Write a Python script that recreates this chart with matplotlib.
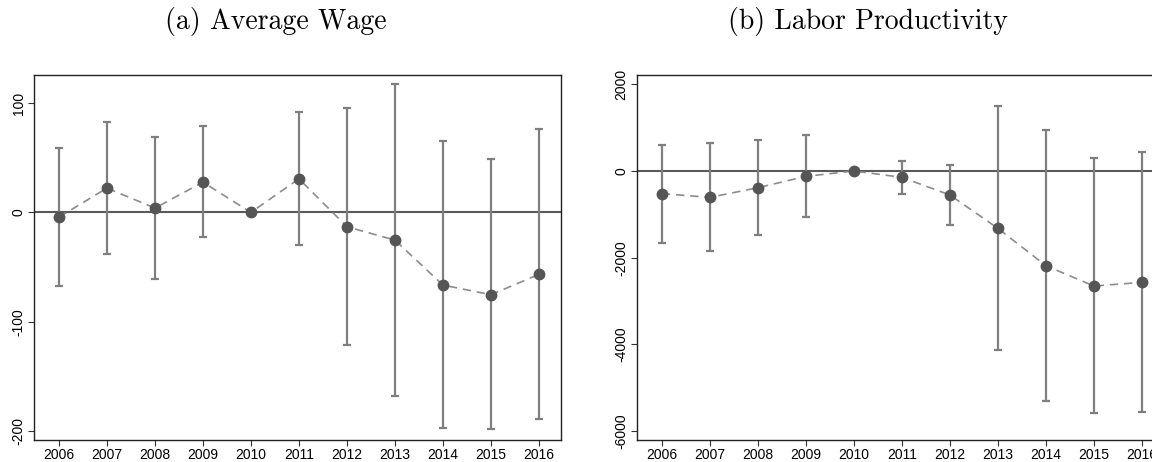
import matplotlib
matplotlib.use("Agg")
import matplotlib.pyplot as plt
import numpy as np

years = [2006, 2007, 2008, 2009, 2010, 2011, 2012, 2013, 2014, 2015, 2016]

wage_coef = [-4.3, 22.3, 4.0, 27.7, 0.0, 30.8, -13.1, -25.3, -66.5, -75.3, -56.7]
wage_hi = [58.8, 83.2, 68.9, 78.7, 0.0, 91.5, 95.7, 117.7, 65.2, 48.5, 76.2]
wage_lo = [-67.7, -38.4, -60.7, -22.6, 0.0, -29.6, -121.3, -167.7, -197.6, -197.9, -189.0]
wage_ticks = [100, 0, -100, -200]

prod_coef = [-523, -608, -385, -123, 0, -146, -554, -1323, -2185, -2654, -2569]
prod_hi = [608, 654, 723, 823, 0, 238, 146, 1500, 954, 300, 431]
prod_lo = [-1654, -1846, -1485, -1054, 0, -523, -1246, -4138, -5308, -5592, -5562]
prod_ticks = [2000, 0, -2000, -4000, -6000]

titles = ["(a) Average Wage", "(b) Labor Productivity"]

plt.rcParams['axes.unicode_minus'] = False
plt.rcParams['font.family'] = ['Liberation Sans', 'DejaVu Sans']

W, H = 1152, 462
fig = plt.figure(figsize=(W / 100, H / 100), dpi=100)

def add_axes(x0, y0, x1, y1):
    return fig.add_axes([x0 / W, 1 - y1 / H, (x1 - x0) / W, (y1 - y0) / H])

ax1 = add_axes(34, 75, 561, 440)
ax2 = add_axes(637, 75, 1164, 440)

panels = [
    (ax1, wage_coef, wage_hi, wage_lo, wage_ticks, (-208.3, 125.8), 276),
    (ax2, prod_coef, prod_hi, prod_lo, prod_ticks, (-6206, 2215), 868),
]

for (ax, coef, hi, lo, ticks, ylim, tx), title in zip(panels, titles):
    yrs = np.array(years)
    c = np.array(coef, dtype=float)
    h = np.array(hi, dtype=float)
    l = np.array(lo, dtype=float)
    mask = yrs != 2010
    ax.axhline(0, color="#5a5a5a", lw=1.5, zorder=1)
    ax.vlines(yrs[mask], l[mask], h[mask], color="#7f7f7f", lw=1.6, zorder=2)
    ax.hlines(h[mask], yrs[mask] - 0.09, yrs[mask] + 0.09, color="#7f7f7f", lw=1.6, zorder=2)
    ax.hlines(l[mask], yrs[mask] - 0.09, yrs[mask] + 0.09, color="#7f7f7f", lw=1.6, zorder=2)
    ax.plot(yrs, c, ls=(0, (5, 3.5)), color="#8c8c8c", lw=1.2, zorder=3)
    ax.plot(yrs, c, ls="none", marker="o", ms=7.5, color="#555555", mec="#555555", zorder=4)
    ax.set_xlim(2005.48, 2016.46)
    ax.set_ylim(*ylim)
    ax.set_xticks(years)
    ax.set_xticklabels([str(y) for y in years], fontsize=10)
    ax.set_yticks(ticks)
    ax.set_yticklabels([str(t) for t in ticks], fontsize=10, rotation=90, va="center")
    ax.tick_params(direction="out", length=4, width=0.8, color="#333333", pad=2)
    for s in ax.spines.values():
        s.set_color("#222222")
        s.set_linewidth(1.0)
    fig.text(tx / W, 1 - 21 / H, title, ha="center", va="center",
             fontsize=20, family=["cmr10", "DejaVu Serif"])

fig.savefig("out.png", dpi=100)
